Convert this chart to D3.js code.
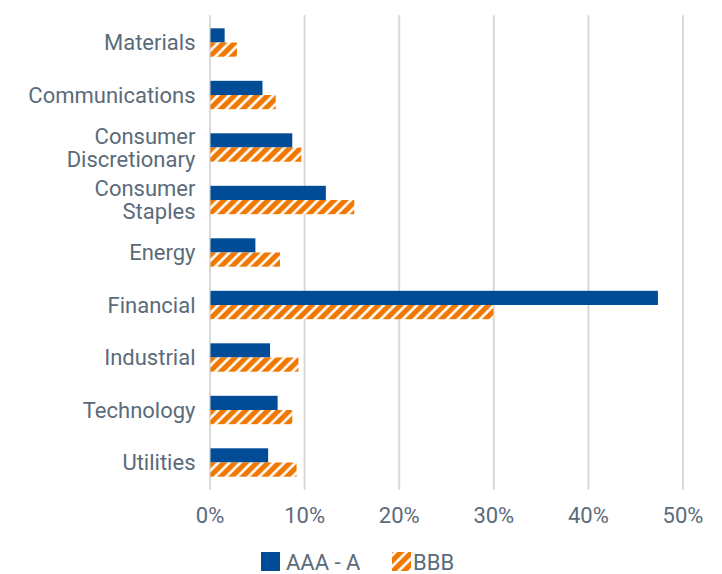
<!DOCTYPE html>
<html>
<head>
<meta charset="utf-8">
<script src="https://cdn.jsdelivr.net/npm/d3@7"></script>
<style>
  body { margin: 0; background: #fff; }
  text { font-family: Roboto, "Noto Sans", sans-serif; fill: #5b6b7a; }
</style>
</head>
<body>
<svg width="722" height="574"></svg>
<script>
const categories = ['Materials', 'Communications', 'Consumer Discretionary', 'Consumer Staples',
  'Energy', 'Financial', 'Industrial', 'Technology', 'Utilities'];
const seriesNames = ['AAA - A', 'BBB'];
const aaaValues = [1.6, 5.6, 8.75, 12.3, 4.85, 47.4, 6.4, 7.2, 6.2];
const bbbValues = [2.9, 7.0, 9.7, 15.3, 7.45, 30.0, 9.4, 8.75, 9.2];
const xTicks = [0, 10, 20, 30, 40, 50];

function whenLoaded() {
  const svg = d3.select('svg');
  const width = +svg.attr('width');
  const height = +svg.attr('height');

  const margin = {top: 16.25, right: 39.5, bottom: 85.25, left: 209.5};
  const innerWidth = width - margin.left - margin.right;
  const innerHeight = height - margin.top - margin.bottom;

  const blue = '#004c97';
  const orange = '#f07800';
  const fontSize = 22;

  const defs = svg.append('defs');
  const pat = defs.append('pattern')
    .attr('id', 'hatch')
    .attr('patternUnits', 'userSpaceOnUse')
    .attr('width', 7.8)
    .attr('height', 7.8)
    .attr('patternTransform', 'rotate(45)');
  pat.append('rect').attr('width', 7.8).attr('height', 7.8).attr('fill', orange);
  pat.append('line')
    .attr('x1', 1.5).attr('y1', 0).attr('x2', 1.5).attr('y2', 7.8)
    .attr('stroke', '#fff').attr('stroke-width', 2.6);

  const data = categories.map((c, i) => ({cat: c, values: [aaaValues[i], bbbValues[i]]}));

  const xScale = d3.scaleLinear().domain([0, 50]).range([0, innerWidth]);
  const yScale = d3.scaleBand().domain(categories).range([0, innerHeight]).padding(0);
  const subScale = d3.scaleBand().domain(seriesNames).range([0, yScale.bandwidth()])
    .paddingInner(0).paddingOuter(0.85);

  const g = svg.append('g').attr('transform', `translate(${margin.left},${margin.top})`);

  // gridlines + tick labels
  const xAxis = d3.axisBottom(xScale)
    .tickValues(xTicks)
    .tickFormat(d => d + '%')
    .tickSize(innerHeight + 2)
    .tickPadding(18);
  const xAxisG = g.append('g').attr('transform', 'translate(0,-1)').call(xAxis);
  xAxisG.select('.domain').remove();
  xAxisG.selectAll('line').attr('stroke', '#d9d9d9').attr('stroke-width', 2);
  xAxisG.selectAll('text')
    .attr('font-size', fontSize)
    .attr('font-family', 'Roboto, sans-serif')
    .attr('fill', '#5b6b7a');

  // category labels
  const labelG = g.append('g');
  data.forEach(d => {
    const cy = yScale(d.cat) + yScale.bandwidth() / 2;
    const words = d.cat.startsWith('Consumer') ? d.cat.split(' ') : [d.cat];
    const t = labelG.append('text')
      .attr('x', -14)
      .attr('y', cy)
      .attr('text-anchor', 'end')
      .attr('font-size', fontSize);
    words.forEach((w, i) => {
      t.append('tspan')
        .attr('x', -14)
        .attr('y', cy + (i - (words.length - 1) / 2) * 23)
        .attr('dy', '0.35em')
        .text(w);
    });
  });

  // bars
  const groups = g.selectAll('.grp').data(data).enter().append('g')
    .attr('class', 'grp')
    .attr('transform', d => `translate(0,${yScale(d.cat)})`);
  groups.selectAll('rect')
    .data(d => d.values.map((v, i) => ({key: seriesNames[i], value: v})))
    .enter().append('rect')
    .attr('x', 1)
    .attr('y', d => subScale(d.key))
    .attr('width', d => xScale(d.value) - 1)
    .attr('height', subScale.bandwidth())
    .attr('fill', d => d.key === 'BBB' ? 'url(#hatch)' : blue);

  // legend
  const legend = svg.append('g').attr('transform', 'translate(261,552)');
  legend.append('rect').attr('width', 19).attr('height', 19).attr('fill', blue);
  legend.append('text').attr('x', 25).attr('y', 10).attr('dy', '0.35em')
    .attr('font-size', fontSize).text(seriesNames[0]);
  legend.append('rect').attr('x', 131).attr('width', 19).attr('height', 19).attr('fill', 'url(#hatch)');
  legend.append('text').attr('x', 152).attr('y', 10).attr('dy', '0.35em')
    .attr('font-size', fontSize).text(seriesNames[1]);
}

window.onload = whenLoaded;
</script>
</body>
</html>
